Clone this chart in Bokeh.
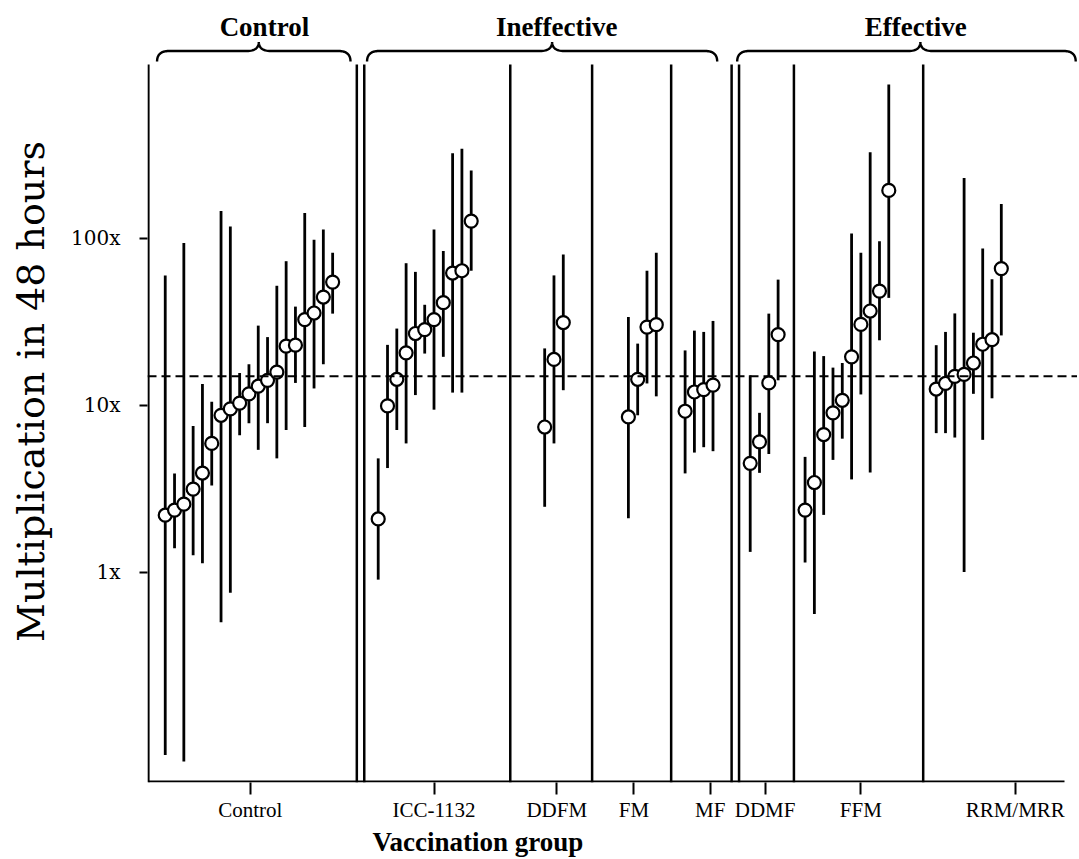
import numpy as np
from bokeh.plotting import figure
from bokeh.models import Range1d, FixedTicker, Span, ColumnDataSource, Title
from bokeh.embed import file_html
from bokeh.resources import INLINE
from bokeh.core.properties import value

# ---------------- data ----------------
group_names = ["Control", "ICC-1132", "DDFM", "FM", "MF", "DDMF", "FFM", "RRM/MRR"]

control_mid = [2.19, 2.35, 2.55, 3.14, 3.92, 5.9, 8.7, 9.5, 10.3, 11.7, 13.0, 14.1, 15.8, 22.6, 22.9, 32.6, 35.7, 44.5, 54.7]
control_lo = [0.080, 1.39, 0.073, 1.26, 1.13, 3.3, 0.50, 0.75, 6.6, 7.8, 5.4, 7.8, 4.8, 7.1, 13.6, 7.4, 12.6, 17.6, 35.4]
control_hi = [60, 3.9, 94, 7.5, 13.4, 10.5, 146, 118, 15.6, 17.6, 30, 25.6, 52, 73, 39, 142, 98, 113, 82]

icc_mid = [2.08, 9.9, 14.3, 20.6, 26.9, 28.4, 32.6, 41.2, 62, 64, 127]
icc_lo = [0.90, 4.2, 7.1, 5.9, 11.5, 20.4, 9.4, 19.5, 11.9, 11.9, 64]
icc_hi = [4.8, 23, 28.8, 71, 63, 40, 113, 84, 324, 345, 255]

ddfm_mid = [7.4, 18.8, 31.3]
ddfm_lo = [2.46, 5.9, 12.3]
ddfm_hi = [21.9, 60, 80]

fm_mid = [8.5, 14.3, 29.4, 30.4]
fm_lo = [2.1, 8.7, 13.5, 11.3]
fm_hi = [33.8, 23.4, 64, 82]

mf_mid = [9.2, 12.0, 12.4, 13.2]
mf_lo = [3.9, 5.2, 5.6, 5.3]
mf_hi = [21.3, 28, 27.5, 32]

ddmf_mid = [4.48, 6.03, 13.6, 26.5]
ddmf_lo = [1.32, 3.93, 5.1, 14.1]
ddmf_hi = [15.1, 9.0, 35.4, 56.6]

ffm_mid = [2.35, 3.44, 6.67, 9.0, 10.7, 19.5, 30.5, 36.7, 48.3, 194]
ffm_lo = [1.14, 0.56, 2.2, 4.7, 6.3, 3.59, 11.6, 3.95, 24.5, 44]
ffm_hi = [4.9, 21, 19.7, 16.8, 17.9, 107, 82, 329, 96, 836]

rrm_mid = [12.5, 13.5, 14.9, 15.3, 17.9, 23.2, 24.7, 65.9]
rrm_lo = [6.8, 6.8, 6.4, 1.0, 11.7, 6.2, 11.0, 26.2]
rrm_hi = [22.9, 27.5, 35.5, 230, 27.2, 87, 56.9, 161]

reference_level = 14.9

y_tick_values = [1, 10, 100]
y_tick_labels = ["1x", "10x", "100x"]

section_names = ["Control", "Ineffective", "Effective"]

# ---------------- layout (positions in slot units) ----------------
group_first_slot = [1.8, 24.7, 42.6, 51.6, 57.7, 64.7, 70.6, 84.7]
group_tick_slot = [10.95, 30.7, 43.9, 52.2, 60.4, 66.3, 76.6, 93.2]
separator_slot = [22.4, 23.2, 38.9, 47.7, 56.2, 62.7, 63.5, 69.4, 83.3]
brace_slots = [(0.92, 11.86, 21.72), (23.5, 43.4, 61.15), (63.3, 83.0, 99.7)]
label_shift = [0.6, 0.5, -0.5]

SLOT_PX = 9.3
ONE_PX = 571.5      # page y of "1x"
DECADE_PX = 166.8   # pixels per decade
W, H = 1077, 858
MB_LEFT, MB_BOTTOM = 147, 76
FRAME_TOP_PAGE = 0
FRAME_BOTTOM_PAGE = H - MB_BOTTOM
FRAME_LEFT_PAGE = MB_LEFT
AXIS_X_PAGE = 148
XLABEL_LEFT_PAGE = 372


def L(py):
    return (ONE_PX - py) / DECADE_PX


x_start = (FRAME_LEFT_PAGE - AXIS_X_PAGE) / SLOT_PX
x_end = x_start + (W - MB_LEFT) / SLOT_PX
y_bottom = 10 ** L(FRAME_BOTTOM_PAGE)
y_top = 10 ** L(FRAME_TOP_PAGE)

p = figure(width=W, height=H, y_axis_type="log",
           x_range=Range1d(x_start, x_end), y_range=Range1d(y_bottom, y_top),
           output_backend="svg", toolbar_location=None,
           min_border_left=MB_LEFT, min_border_right=0,
           min_border_top=0, min_border_bottom=MB_BOTTOM)
p.outline_line_color = None
p.xgrid.visible = False
p.ygrid.visible = False
p.background_fill_color = "white"
p.border_fill_color = "white"

# axes
p.yaxis.ticker = FixedTicker(ticks=y_tick_values, minor_ticks=[])
p.yaxis.major_label_overrides = dict(zip(y_tick_values, y_tick_labels))
p.yaxis.axis_line_color = None
p.yaxis.major_tick_out = 8
p.yaxis.major_tick_in = 0
p.yaxis.major_tick_line_width = 2
p.yaxis.major_label_standoff = 19
p.yaxis.major_label_text_font = "DejaVu Serif"
p.yaxis.major_label_text_font_size = "20px"
p.yaxis.major_label_text_color = "black"
p.yaxis.axis_label = "Multiplication in 48 hours"
p.yaxis.axis_label_text_font = "DejaVu Serif"
p.yaxis.axis_label_text_font_size = "38px"
p.yaxis.axis_label_text_font_style = "normal"
p.yaxis.axis_label_text_color = "black"
p.yaxis.axis_label_standoff = 15

p.xaxis.ticker = FixedTicker(ticks=group_tick_slot, minor_ticks=[])
p.xaxis.major_label_overrides = dict(zip(group_tick_slot, group_names))
p.xaxis.axis_line_color = None
p.xaxis.major_tick_out = 12
p.xaxis.major_tick_in = 0
p.xaxis.major_tick_line_width = 2
p.xaxis.major_label_standoff = 3
p.xaxis.major_label_text_font = "Liberation Serif"
p.xaxis.major_label_text_font_size = "21px"
p.xaxis.major_label_text_color = "black"

# x-axis title, placed left-aligned like the original
p.add_layout(Title(text="Vaccination group", align="left",
                   offset=XLABEL_LEFT_PAGE - FRAME_LEFT_PAGE, standoff=0,
                   text_font="Liberation Serif", text_font_size="27px",
                   text_font_style="bold", text_color="black"), "below")

# hand-drawn axis lines
line_top = 10 ** L(64)
p.segment(x0=[0], y0=[y_bottom], x1=[0], y1=[line_top], line_color="black", line_width=2.2)
axis_y = 10 ** L(781)
p.segment(x0=[0], y0=[axis_y], x1=[(1064 - AXIS_X_PAGE) / SLOT_PX], y1=[axis_y],
          line_color="black", line_width=2.2)

# separators
p.segment(x0=separator_slot, y0=[y_bottom] * len(separator_slot),
          x1=separator_slot, y1=[line_top] * len(separator_slot),
          line_color="black", line_width=2.5)

# reference dashed line
p.add_layout(Span(location=reference_level, dimension="width", line_color="black",
                  line_width=2, line_dash="9 5"))

# points and error bars
mids = [control_mid, icc_mid, ddfm_mid, fm_mid, mf_mid, ddmf_mid, ffm_mid, rrm_mid]
los = [control_lo, icc_lo, ddfm_lo, fm_lo, mf_lo, ddmf_lo, ffm_lo, rrm_lo]
his = [control_hi, icc_hi, ddfm_hi, fm_hi, mf_hi, ddmf_hi, ffm_hi, rrm_hi]
xs, ys, lo_all, hi_all = [], [], [], []
for first, m, lo, hi in zip(group_first_slot, mids, los, his):
    for i in range(len(m)):
        xs.append(first + i)
        ys.append(m[i])
        lo_all.append(lo[i])
        hi_all.append(hi[i])
src = ColumnDataSource(dict(x=xs, y=ys, lo=lo_all, hi=hi_all))
p.segment(x0="x", y0="lo", x1="x", y1="hi", source=src, line_color="black", line_width=2.8)
p.scatter(x="x", y="y", source=src, size=13, fill_color="white", line_color="black", line_width=2.2)

# braces with section labels
L_end, L_h, L_cusp = L(61), L(50.5), L(41.5)
t = np.linspace(0, 1, 16)


def quad(p0, c, p1):
    return ((1 - t) ** 2 * p0[0] + 2 * (1 - t) * t * c[0] + t ** 2 * p1[0],
            (1 - t) ** 2 * p0[1] + 2 * (1 - t) * t * c[1] + t ** 2 * p1[1])


r = 1.3
bx, by = [], []
for (x0, xc, x1) in brace_slots:
    parts = [quad((x0, L_end), (x0, L_h), (x0 + r, L_h)),
             quad((xc - r, L_h), (xc, L_h), (xc, L_cusp)),
             quad((xc, L_cusp), (xc, L_h), (xc + r, L_h)),
             quad((x1 - r, L_h), (x1, L_h), (x1, L_end))]
    px = np.concatenate([pp[0] for pp in parts])
    py = np.concatenate([pp[1] for pp in parts])
    bx.append(list(px))
    by.append(list(10 ** py))
p.multi_line(xs=bx, ys=by, line_color="black", line_width=2.4)

label_y = 10 ** L(26)
p.text(x=[b[1] + s for b, s in zip(brace_slots, label_shift)], y=[label_y] * 3, text=section_names,
       text_font=value("Liberation Serif"), text_font_style="bold", text_font_size="27px",
       text_align="center", text_baseline="middle", text_color="black")

open("out.html", "w").write(file_html(p, INLINE))
